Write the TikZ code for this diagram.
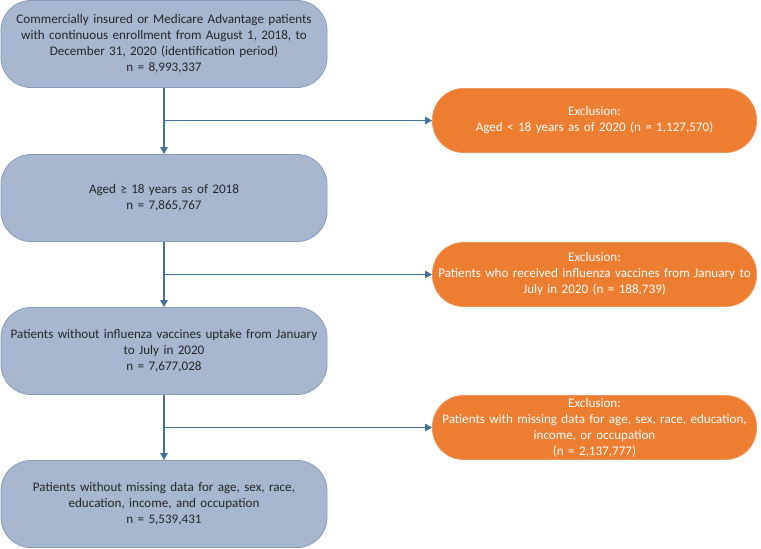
\documentclass[tikz,border=0pt]{standalone}
\usepackage{fontspec}
\setmainfont{Carlito}
\usetikzlibrary{arrows.meta}
\definecolor{bfill}{RGB}{166,183,207}
\definecolor{bdraw}{RGB}{135,155,185}
\definecolor{ofill}{RGB}{237,125,49}
\definecolor{odraw}{RGB}{240,150,90}
\definecolor{lineblue}{RGB}{65,113,156}
\tikzset{
  bluebox/.style={draw=bdraw, fill=bfill, line width=0.8pt, rounded corners=30pt,
    minimum width=326pt, minimum height=87pt, text width=320pt, align=center,
    inner sep=0pt, font=\fontsize{13.1}{16}\selectfont, text=black!85},
  orangebox/.style={draw=odraw, fill=ofill, line width=0.8pt, rounded corners=31pt,
    minimum width=324pt, minimum height=64pt, text width=320pt, align=center,
    inner sep=0pt, font=\fontsize{13.1}{16}\selectfont, text=white},
  conn/.style={draw=lineblue, line width=1.1pt},
  arr/.style={conn, -{Triangle[length=7pt,width=7.5pt]}}
}
\begin{document}
\begin{tikzpicture}[x=1pt,y=-1pt]
\useasboundingbox (0,0) rectangle (761,549);
\node[bluebox] (b1) at (164,44) {Commercially insured or Medicare Advantage patients\\with continuous enrollment from August 1, 2018, to\\December 31, 2020 (identification period)\\n = 8,993,337};
\node[bluebox] (b2) at (164,198) {Aged ≥ 18 years as of 2018\\n = 7,865,767};
\node[bluebox] (b3) at (164,351) {Patients without influenza vaccines uptake from January\\to July in 2020\\n = 7,677,028};
\node[bluebox] (b4) at (164,504) {Patients without missing data for age, sex, race,\\education, income, and occupation\\n = 5,539,431};
\node[orangebox] (o1) at (594.5,120.5) {Exclusion:\\Aged < 18 years as of 2020 (n = 1,127,570)};
\node[orangebox] (o2) at (594.5,274.5) {Exclusion:\\Patients who received influenza vaccines from January to\\July in 2020 (n = 188,739)};
\node[orangebox] (o3) at (594.5,427.5) {Exclusion:\\Patients with missing data for age, sex, race, education,\\income, or occupation\\(n = 2,137,777)};
\draw[arr] (b1.south) -- (b2.north);
\draw[arr] (b2.south) -- (b3.north);
\draw[arr] (b3.south) -- (b4.north);
\coordinate (j1) at (b1.south |- o1.west);
\coordinate (j2) at (b2.south |- o2.west);
\coordinate (j3) at (b3.south |- o3.west);
\draw[arr] (j1) -- (o1.west);
\draw[arr] (j2) -- (o2.west);
\draw[arr] (j3) -- (o3.west);
\end{tikzpicture}
\end{document}
